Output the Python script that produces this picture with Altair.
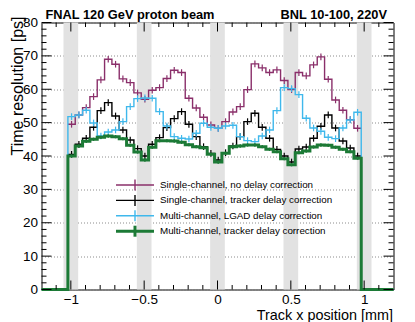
import altair as alt
import pandas as pd

# ---------------- data ----------------
bin_start = -1.02
bin_width = 0.05
n_bins = 40

single_no_delay = [49.5, 52.3, 54.5, 57.8, 62.8, 69.0, 67.5, 63.1, 62.0, 58.9,
                   57.0, 59.7, 60.5, 63.2, 65.7, 65.0, 57.3, 54.4, 51.6, 49.3,
                   48.3, 50.3, 53.2, 54.8, 59.9, 67.6, 66.4, 65.0, 65.8, 62.6,
                   59.9, 65.0, 64.0, 67.3, 69.7, 63.0, 56.8, 53.7, 50.9, 48.3]
single_tracker = [40.5, 43.5, 45.3, 48.6, 53.6, 56.0, 52.0, 47.8, 44.8, 42.2,
                  40.0, 43.5, 45.5, 48.5, 51.2, 53.3, 49.5, 45.8, 42.8, 40.8,
                  38.8, 41.0, 43.0, 45.8, 50.3, 52.8, 48.6, 45.3, 42.0, 40.0,
                  38.2, 42.1, 42.7, 45.3, 48.9, 52.3, 48.4, 44.5, 42.4, 40.0]
multi_lgad = [51.8, 52.3, 53.7, 49.9, 46.0, 47.2, 47.8, 50.3, 54.8, 57.2,
              57.4, 57.3, 53.3, 49.0, 45.8, 45.3, 45.1, 46.8, 49.8, 48.6,
              48.3, 49.0, 49.2, 45.8, 44.6, 44.3, 46.0, 47.8, 53.6, 60.5,
              60.2, 58.4, 51.3, 48.4, 47.4, 45.6, 45.2, 48.4, 50.8, 53.1]
multi_tracker = [40.0, 43.0, 44.4, 45.0, 45.6, 46.0, 45.8, 45.2, 43.2, 41.2,
                 38.8, 42.6, 44.6, 44.6, 44.5, 44.1, 43.4, 42.8, 42.5, 40.5,
                 38.2, 40.8, 42.8, 43.0, 43.3, 43.3, 42.8, 42.0, 41.3, 39.2,
                 37.4, 41.0, 41.5, 42.7, 43.3, 43.2, 42.6, 42.0, 41.3, 39.3]

series_values = [single_no_delay, single_tracker, multi_lgad, multi_tracker]
series_names = ["Single-channel, no delay correction",
                "Single-channel, tracker delay correction",
                "Multi-channel, LGAD delay correction",
                "Multi-channel, tracker delay correction"]
series_errors = [1.0, 1.0, 1.0, 0.5]
series_drop = [False, False, True, True]

band_centers = [-1.0, -0.5, 0.0, 0.5, 1.0]
band_half = 0.05

x_domain = [-1.2, 1.2]
y_domain = [0, 80]
x_major = [-1.0, -0.5, 0.0, 0.5, 1.0]
x_minor = [-1.1, -0.9, -0.8, -0.7, -0.6, -0.4, -0.3, -0.2, -0.1,
           0.1, 0.2, 0.3, 0.4, 0.6, 0.7, 0.8, 0.9, 1.1]
y_major = [0, 10, 20, 30, 40, 50, 60, 70, 80]
y_minor = [v for v in range(2, 80, 2) if v % 10 != 0]

title_left = "FNAL 120 GeV proton beam"
title_right = "BNL 10-100, 220V"
x_title = "Track x position [mm]"
y_title = "Time resolution [ps]"

# ---------------- style ----------------
W, H = 352, 267
FONT = "Liberation Sans"
colors = ["#8a2f6a", "#000000", "#3fb8ec", "#1c7a36"]
widths = [1.4, 1.4, 1.4, 3.0]
err_widths = [1.2, 1.2, 1.2, 1.4]
band_color = "#e2e2e2"

xscale = alt.Scale(domain=x_domain, nice=False, zero=False)
yscale = alt.Scale(domain=y_domain, nice=False, zero=False)
xaxis = alt.Axis(values=x_major, format="~g", title=None, ticks=False, domain=False,
                 grid=False, labelFontSize=13.5, labelFont=FONT, labelColor="black",
                 labelPadding=3)
yaxis = alt.Axis(values=y_major, title=None, ticks=False, domain=False, grid=True,
                 gridColor="#8c8c8c", gridDash=[1, 2], gridWidth=1,
                 labelFontSize=13.5, labelFont=FONT, labelColor="black", labelPadding=4)


def X(f):
    return alt.X(f, type="quantitative", scale=xscale, axis=xaxis)


def Y(f):
    return alt.Y(f, type="quantitative", scale=yscale, axis=yaxis)


layers = []

# gray bands
bands = pd.DataFrame({"c": band_centers})
layers.append(
    alt.Chart(bands).transform_calculate(lo=f"datum.c - {band_half}", hi=f"datum.c + {band_half}")
    .mark_rect(color=band_color)
    .encode(x=X("lo"), x2="hi:Q", y=Y("ylo"), y2="yhi:Q")
    .transform_calculate(ylo=str(y_domain[0]), yhi=str(y_domain[1]))
)

edges = [bin_start + bin_width * i for i in range(n_bins + 1)]

for vals, name, err, drop, col, wd, ew in zip(series_values, series_names, series_errors,
                                              series_drop, colors, widths, err_widths):
    if drop:
        xs = [x_domain[0]] + edges + [x_domain[1]]
        ys = [0] + list(vals) + [0, 0]
    else:
        xs = list(edges)
        ys = list(vals) + [vals[-1]]
    df = pd.DataFrame({"x": xs, "v": ys, "i": list(range(len(xs)))})
    layers.append(
        alt.Chart(df).mark_line(interpolate="step-after", color=col, strokeWidth=wd,
                                strokeCap="butt", strokeJoin="miter")
        .encode(x=X("x"), y=Y("v"), order="i:Q")
    )
    centers = [e + bin_width / 2 for e in edges[:-1]]
    edf = pd.DataFrame({"x": centers, "lo": [v - err for v in vals], "hi": [v + err for v in vals]})
    layers.append(
        alt.Chart(edf).mark_rule(color=col, strokeWidth=ew)
        .encode(x=X("x"), y=Y("lo"), y2="hi:Q")
    )

# inward ticks on all four sides
def xticks(vals, length):
    d = pd.DataFrame({"x": vals})
    bot = alt.Chart(d).mark_rule(color="black", strokeWidth=1).encode(
        x=X("x"), y=alt.value(H), y2=alt.value(H - length))
    top = alt.Chart(d).mark_rule(color="black", strokeWidth=1).encode(
        x=X("x"), y=alt.value(0), y2=alt.value(length))
    return [bot, top]


def yticks(vals, length):
    d = pd.DataFrame({"y": vals})
    left = alt.Chart(d).mark_rule(color="black", strokeWidth=1).encode(
        y=Y("y"), x=alt.value(0), x2=alt.value(length))
    right = alt.Chart(d).mark_rule(color="black", strokeWidth=1).encode(
        y=Y("y"), x=alt.value(W), x2=alt.value(W - length))
    return [left, right]


layers += xticks(x_major, 9) + xticks(x_minor, 4.5)
layers += yticks(y_major, 10) + yticks(y_minor, 5)

# legend
leg_y0, leg_dy = 162.5, 15.4
for k, (name, col, wd) in enumerate(zip(series_names, colors, widths)):
    ry = leg_y0 + leg_dy * k
    d = pd.DataFrame({"t": [name]})
    layers.append(alt.Chart(d).mark_rule(color=col, strokeWidth=wd).encode(
        x=alt.value(74.5), x2=alt.value(112.5), y=alt.value(ry)))
    layers.append(alt.Chart(d).mark_rule(color=col, strokeWidth=wd).encode(
        x=alt.value(93.5), y=alt.value(ry - 5.5), y2=alt.value(ry + 5.5)))
    layers.append(alt.Chart(d).mark_text(align="left", baseline="middle", font=FONT,
                                         fontSize=9.8, color="black").encode(
        x=alt.value(118.5), y=alt.value(ry), text="t:N"))

# titles
layers.append(alt.Chart(pd.DataFrame({"t": [title_left]})).mark_text(
    align="left", baseline="alphabetic", font=FONT, fontSize=12.8, fontWeight="bold",
    color="black").encode(x=alt.value(4), y=alt.value(-3.5), text="t:N"))
layers.append(alt.Chart(pd.DataFrame({"t": [title_right]})).mark_text(
    align="right", baseline="alphabetic", font=FONT, fontSize=12.8, fontWeight="bold",
    color="black").encode(x=alt.value(345.5), y=alt.value(-3.5), text="t:N"))
layers.append(alt.Chart(pd.DataFrame({"t": [x_title]})).mark_text(
    align="right", baseline="alphabetic", font=FONT, fontSize=14.4,
    color="black").encode(x=alt.value(351.5), y=alt.value(297.5), text="t:N"))
layers.append(alt.Chart(pd.DataFrame({"t": [y_title]})).mark_text(
    align="right", baseline="alphabetic", font=FONT, fontSize=16, angle=270,
    color="black").encode(x=alt.value(-18.5), y=alt.value(-6), text="t:N"))

chart = alt.layer(*layers).properties(
    width=W, height=H,
    autosize=alt.AutoSizeParams(type="none"),
    padding={"left": 33.5, "top": 14.5, "right": 13, "bottom": 34},
).configure_view(stroke="black", strokeWidth=1)

chart.save("out.html", embed_options={"renderer": "svg", "actions": False})
